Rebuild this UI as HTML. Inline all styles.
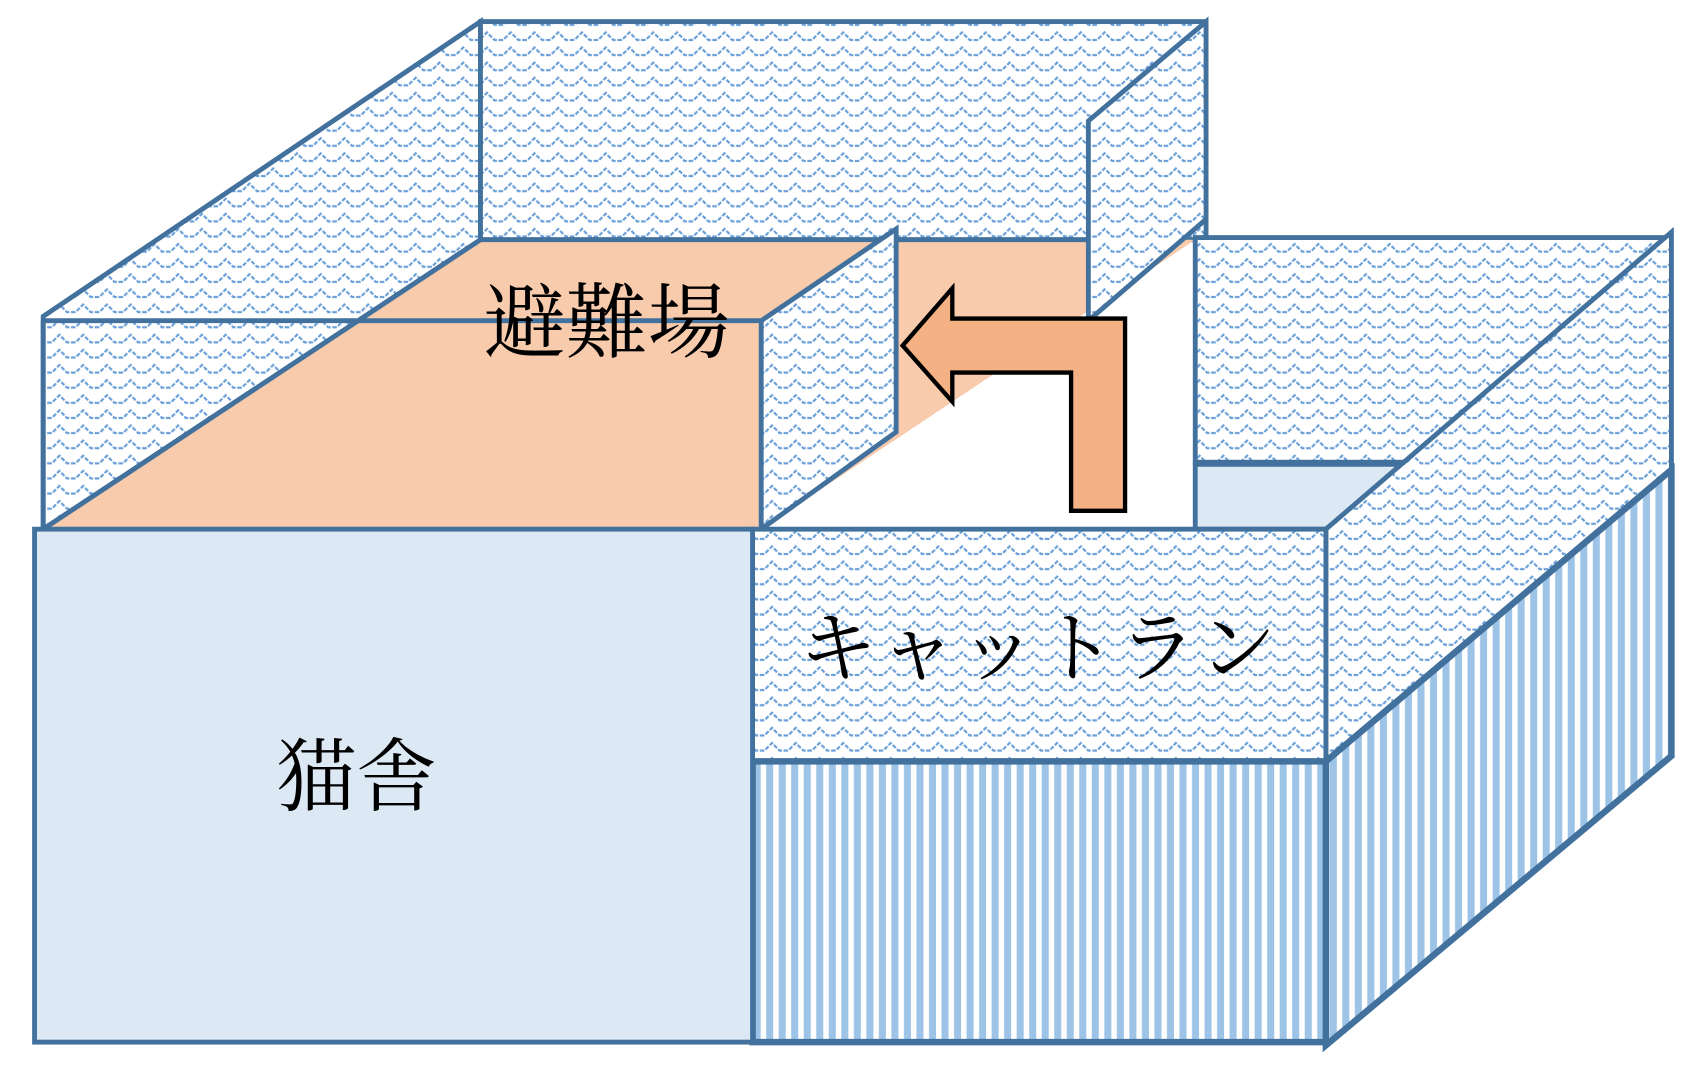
<!DOCTYPE html>
<html><head><meta charset="utf-8"><style>
html,body{margin:0;padding:0;background:#fff;}
svg{display:block;}
text{font-family:"Liberation Serif","Noto Serif CJK SC","Noto Serif CJK JP",serif;fill:#000;}
</style></head><body>
<svg width="1693" height="1081" viewBox="0 0 1568 1001" preserveAspectRatio="none" xmlns="http://www.w3.org/2000/svg">
<defs>
<pattern id="w" width="22" height="14" patternUnits="userSpaceOnUse">
<rect width="22" height="14" fill="#fff"/>
<path d="M0 9 L4 9 L7 6 L11 2 L14 5 L18 9 L22 9" fill="none" stroke="#6a9fd8" stroke-width="2" stroke-dasharray="4 1.5"/>
</pattern>
<pattern id="s" width="11.6" height="10" patternUnits="userSpaceOnUse">
<rect width="11.6" height="10" fill="#fff"/>
<rect x="2" width="6.5" height="10" fill="#9dc3e6"/>
</pattern>
</defs>
<g stroke="#41719c" stroke-width="4.5" stroke-linejoin="miter">
<polygon points="40,293 445,20 445,222 40,490" fill="url(#w)"/>
<rect x="445" y="20" width="672" height="202" fill="url(#w)"/>
<polygon points="40,490 445,222 1107,222 705,490" fill="#f8cbad" stroke="none"/>
<line x1="445" y1="222" x2="1008" y2="222"/>
<line x1="445" y1="222" x2="40" y2="490"/>
<line x1="40" y1="297" x2="705" y2="297"/>
<line x1="40" y1="297" x2="40" y2="490"/>
<polygon points="705,490 1107,228 1107,490" fill="#fff" stroke="none"/>
<polygon points="705,297 830,212 830,400 705,490" fill="url(#w)"/>
<polygon points="1008,112 1117,20 1117,203 1008,297" fill="url(#w)"/>
<rect x="1107" y="220" width="433" height="208" fill="url(#w)"/>
<polygon points="1107,430 1300,430 1228,490 1107,490" fill="#dde8f5"/>
<polygon points="1228,490 1548,215 1548,435 1228,705" fill="url(#w)"/>
<polygon points="1228,705 1548,435 1548,700 1228,968" fill="url(#s)" stroke-width="6"/>
<rect x="697" y="490" width="531" height="215" fill="url(#w)"/>
<rect x="697" y="705" width="531" height="260" fill="url(#s)" stroke-width="6"/>
<rect x="32" y="490" width="665" height="475" fill="#dde8f5"/>
</g>
<polygon points="836,320 882,267 882,295 1042,295 1042,473 992,473 992,345 882,345 882,372" fill="#f4b183" stroke="#000" stroke-width="4" stroke-linejoin="miter"/>
<text x="562" y="325" font-size="76" text-anchor="middle">避難場</text>
<text x="330" y="745" font-size="74" text-anchor="middle">猫舎</text>
<text x="962" y="625" font-size="72" text-anchor="middle" letter-spacing="2">キャットラン</text>
</svg>
</body></html>
